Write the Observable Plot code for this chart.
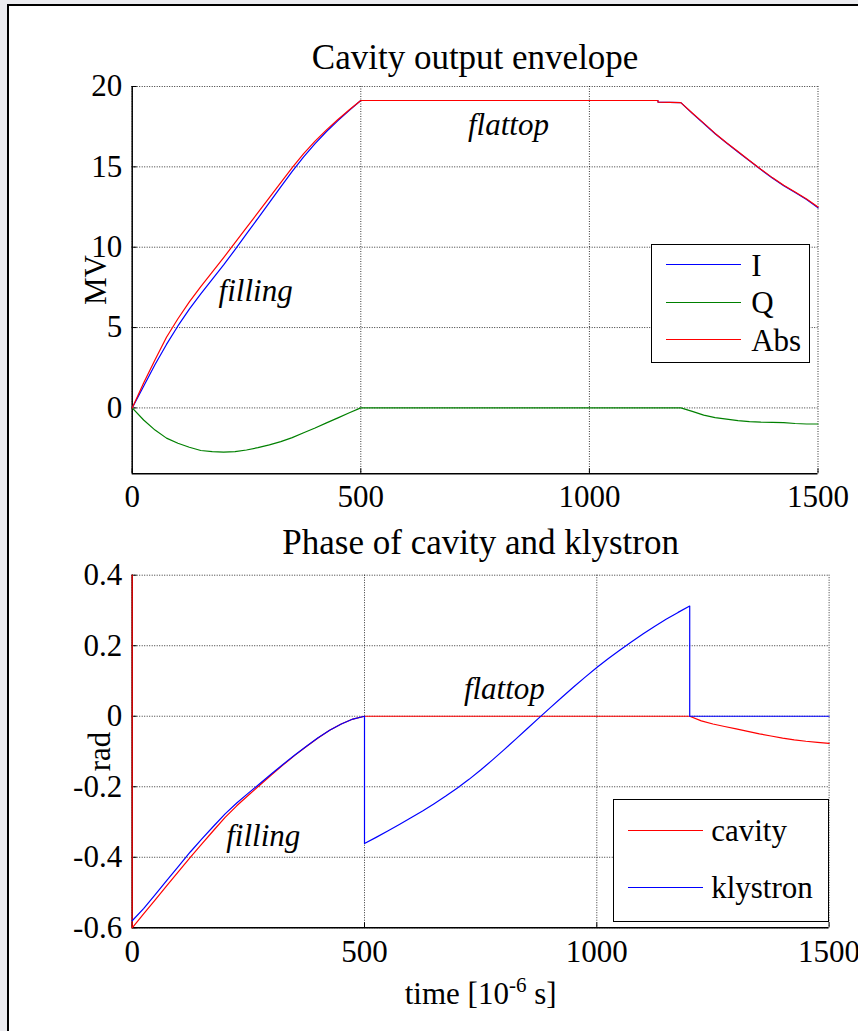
<!DOCTYPE html>
<html><head><meta charset="utf-8">
<script src="https://cdn.jsdelivr.net/npm/d3@7"></script>
<script src="https://cdn.jsdelivr.net/npm/@observablehq/plot@0.6"></script>
<style>
html,body{margin:0;padding:0;background:#ececf0;width:858px;height:1031px;overflow:hidden;position:relative;}
#panel{position:absolute;left:7px;top:4px;width:900px;height:1100px;border-left:2px solid #000;border-top:2px solid #000;background:#fff;}
.chart{position:absolute;left:0;}
.chart svg, .chart svg text{font-family:'Liberation Serif','Times New Roman',serif !important;}
.legend{position:absolute;border:1.5px solid #000;background:#fff;font-family:'Liberation Serif','Times New Roman',serif;font-size:31px;box-sizing:border-box;}
.sw{position:absolute;height:1.4px;}
.lt{position:absolute;line-height:1;transform:translateY(-50%);white-space:nowrap;color:#000;}
</style></head><body>
<div id="panel"></div>
<div id="top" class="chart" style="top:0px"></div>
<div id="bottom" class="chart" style="top:530px"></div>
<div id="leg1" class="legend" style="left:651px;top:244px;width:159px;height:119px"></div>
<div id="leg2" class="legend" style="left:613px;top:799px;width:216px;height:123px"></div>
<script>
// ---------- data: cavity output envelope (MV) ----------
const envTime = [0,25,50,75,100,125,150,175,200,225,250,275,300,325,350,375,400,425,450,475,500,1150,1150,1200,1225,1250,1275,1300,1325,1350,1375,1400,1425,1450,1475,1500];
const envI    = [0,1.35,2.7,3.95,5.1,6.15,7.1,8.0,8.9,9.85,10.83,11.8,12.77,13.75,14.72,15.62,16.45,17.2,17.88,18.52,19.13,19.13,19.03,19.0,18.33,17.7,17.06,16.48,15.93,15.38,14.83,14.3,13.82,13.4,12.97,12.45];
const envQ    = [0,-0.75,-1.38,-1.88,-2.2,-2.45,-2.65,-2.72,-2.75,-2.72,-2.62,-2.47,-2.3,-2.1,-1.85,-1.55,-1.25,-0.93,-0.62,-0.3,0,0,0,0,-0.22,-0.45,-0.6,-0.7,-0.79,-0.85,-0.89,-0.9,-0.92,-0.97,-1.0,-1.0];
const envAbs  = [0,1.55,3.0,4.4,5.55,6.6,7.55,8.45,9.35,10.28,11.22,12.15,13.08,14.02,14.95,15.82,16.6,17.3,17.95,18.55,19.13,19.13,19.03,19.0,18.35,17.72,17.08,16.5,15.95,15.4,14.85,14.33,13.85,13.43,13.0,12.5];

// ---------- data: phase (rad) ----------
const cavTime = [0,0,25,50,75,100,125,150,175,200,225,250,275,300,325,350,375,400,425,450,475,500,1200,1225,1250,1275,1300,1325,1350,1375,1400,1425,1450,1475,1500];
const cavPhase = [0.4,-0.6,-0.56,-0.52,-0.48,-0.44,-0.4,-0.362,-0.324,-0.287,-0.254,-0.224,-0.195,-0.166,-0.138,-0.111,-0.086,-0.062,-0.04,-0.022,-0.008,0,0,-0.013,-0.022,-0.029,-0.036,-0.043,-0.05,-0.056,-0.062,-0.067,-0.071,-0.074,-0.077];
const klyTime = [0,25,50,75,100,125,150,175,200,225,250,275,300,325,350,375,400,425,450,475,500,
  500,525,550,575,600,625,650,675,700,725,750,775,800,825,850,875,900,925,950,975,1000,1025,1050,1075,1100,1125,1150,1175,1200,
  1200,1500];
const klyPhase = [-0.58,-0.545,-0.505,-0.465,-0.425,-0.385,-0.348,-0.312,-0.277,-0.246,-0.218,-0.191,-0.163,-0.136,-0.11,-0.085,-0.061,-0.04,-0.022,-0.008,0,
  -0.361,-0.3435,-0.3255,-0.307,-0.288,-0.2685,-0.248,-0.2265,-0.2035,-0.179,-0.1525,-0.1245,-0.0955,-0.0655,-0.0355,-0.0055,0.0245,0.054,0.083,0.111,0.138,0.1635,0.188,0.2115,0.234,0.2555,0.2755,0.2945,0.3125,
  0,0];

// ---------- ticks, labels ----------
const xTicks = [0,500,1000,1500];
const envTicks = [0,5,10,15,20];
const phaseTicks = [-0.6,-0.4,-0.2,0,0.2,0.4];
const xDomain = [0,1500];
const envDomain = [-4.1,20];
const phaseDomain = [-0.6,0.4];
const title1 = "Cavity output envelope";
const title2 = "Phase of cavity and klystron";
const yLabel1 = "MV";
const yLabel2 = "rad";
const xLabelParts = ["time [10","-6"," s]"];
const envNotes = [{t:823,v:17.6,text:"flattop"},{t:270,v:7.3,text:"filling"}];
const phaseNotes = [{t:801,v:0.077,text:"flattop"},{t:282,v:-0.34,text:"filling"}];
const envSeries = [{name:"I",color:"#0000ff"},{name:"Q",color:"#008000"},{name:"Abs",color:"#ff0000"}];
const phaseSeries = [{name:"cavity",color:"#ff0000"},{name:"klystron",color:"#0000ff"}];

const envRows = envTime.map((t,i)=>({t, I:envI[i], Q:envQ[i], Abs:envAbs[i]}));
const cavRows = cavTime.map((t,i)=>({t, v:cavPhase[i]}));
const klyRows = klyTime.map((t,i)=>({t, v:klyPhase[i]}));

const FONT = "Liberation Serif";
const gridStyle = {stroke:"#000", strokeOpacity:0.8, strokeDasharray:"1,1.5", strokeWidth:1};
const fmt = d => String(d);

const topPlot = Plot.plot({
  width: 858, height: 520,
  marginLeft: 131.7, marginRight: 40.5, marginTop: 86, marginBottom: 46.7,
  x: {domain: xDomain, label: null},
  y: {domain: envDomain, label: null},
  style: {fontFamily: FONT, fontSize: "31px", background: "none", overflow: "visible"},
  marks: [
    Plot.gridX(xTicks, gridStyle),
    Plot.gridY(envTicks, gridStyle),
    Plot.ruleX([xDomain[0]], {stroke:"#000", strokeWidth:1.5}),
    Plot.ruleY([envDomain[0]], {stroke:"#000", strokeWidth:1.5}),
    Plot.axisX(xTicks, {tickSize:-5, tickPadding:16, tickFormat:fmt, label:null, fontFamily:FONT}),
    Plot.axisY(envTicks, {tickSize:-5, tickPadding:15, tickFormat:fmt, label:null, fontFamily:FONT}),
    Plot.line(envRows, {x:"t", y:"I", stroke:envSeries[0].color, strokeWidth:1.2}),
    Plot.line(envRows, {x:"t", y:"Q", stroke:envSeries[1].color, strokeWidth:1.2}),
    Plot.line(envRows, {x:"t", y:"Abs", stroke:envSeries[2].color, strokeWidth:1.2}),
    Plot.text(envNotes, {x:"t", y:"v", text:"text", fontStyle:"italic", fontSize:31, fontFamily:FONT}),
    Plot.text([title1], {text:d=>d, frameAnchor:"top", textAnchor:"middle", lineAnchor:"bottom", dy:-18, fontSize:35, fontFamily:FONT}),
    Plot.text([yLabel1], {text:d=>d, frameAnchor:"left", textAnchor:"middle", lineAnchor:"middle", rotate:-90, dx:-36, fontSize:31, fontFamily:FONT})
  ]
});
document.getElementById("top").appendChild(topPlot);

const botPlot = Plot.plot({
  width: 858, height: 501,
  marginLeft: 131.7, marginRight: 29.4, marginTop: 44.7, marginBottom: 103.7,
  x: {domain: xDomain, label: null},
  y: {domain: phaseDomain, label: null},
  style: {fontFamily: FONT, fontSize: "31px", background: "none", overflow: "visible"},
  marks: [
    Plot.gridX(xTicks, gridStyle),
    Plot.gridY(phaseTicks, gridStyle),
    Plot.ruleX([xDomain[0]], {stroke:"#000", strokeWidth:1.5}),
    Plot.ruleY([phaseDomain[0]], {stroke:"#000", strokeWidth:1.5}),
    Plot.axisX(xTicks, {tickSize:-5, tickPadding:17.5, tickFormat:fmt, label:null, fontFamily:FONT}),
    Plot.axisY(phaseTicks, {tickSize:-5, tickPadding:15, tickFormat:fmt, label:null, fontFamily:FONT}),
    Plot.line(cavRows, {x:"t", y:"v", stroke:phaseSeries[0].color, strokeWidth:1.2}),
    Plot.line(klyRows, {x:"t", y:"v", stroke:phaseSeries[1].color, strokeWidth:1.2}),
    Plot.text(phaseNotes, {x:"t", y:"v", text:"text", fontStyle:"italic", fontSize:31, fontFamily:FONT}),
    Plot.text([title2], {text:d=>d, frameAnchor:"top", textAnchor:"middle", lineAnchor:"bottom", dy:-21.4, fontSize:35, fontFamily:FONT}),
    Plot.text([yLabel2], {text:d=>d, frameAnchor:"left", textAnchor:"middle", lineAnchor:"middle", rotate:-90, dx:-32, fontSize:31, fontFamily:FONT}),
    Plot.text([xLabelParts.join("")], {text:d=>d, frameAnchor:"bottom", textAnchor:"middle", lineAnchor:"bottom", dy:75.7, fontSize:31, fontFamily:FONT})
  ]
});
document.getElementById("bottom").appendChild(botPlot);

// superscript in the x label
(function(){
  const ns = "http://www.w3.org/2000/svg";
  const full = xLabelParts.join("");
  const el = Array.from(botPlot.querySelectorAll("text")).find(t => t.textContent === full);
  if (!el) return;
  while (el.firstChild) el.removeChild(el.firstChild);
  const a = document.createElementNS(ns,"tspan"); a.textContent = xLabelParts[0];
  const b = document.createElementNS(ns,"tspan"); b.textContent = xLabelParts[1];
  b.setAttribute("dy","-12"); b.setAttribute("font-size","21");
  const c = document.createElementNS(ns,"tspan"); c.textContent = xLabelParts[2];
  c.setAttribute("dy","12");
  el.appendChild(a); el.appendChild(b); el.appendChild(c);
})();

// legends
function buildLegend(id, series, rowYs, swX, swW, txtX){
  const box = document.getElementById(id);
  series.forEach((s,i)=>{
    const sw = document.createElement("div");
    sw.className = "sw";
    sw.style.left = swX + "px"; sw.style.width = swW + "px";
    sw.style.top = (rowYs[i] - 0.7) + "px";
    sw.style.backgroundColor = s.color;
    box.appendChild(sw);
    const tx = document.createElement("div");
    tx.className = "lt";
    tx.style.left = txtX + "px"; tx.style.top = rowYs[i] + "px";
    tx.textContent = s.name;
    box.appendChild(tx);
  });
}
buildLegend("leg1", envSeries, [19.5, 57.2, 94.5], 14.2, 75, 99.2);
buildLegend("leg2", phaseSeries, [30.2, 87.2], 13.8, 75.7, 97.2);
</script>
</body></html>
